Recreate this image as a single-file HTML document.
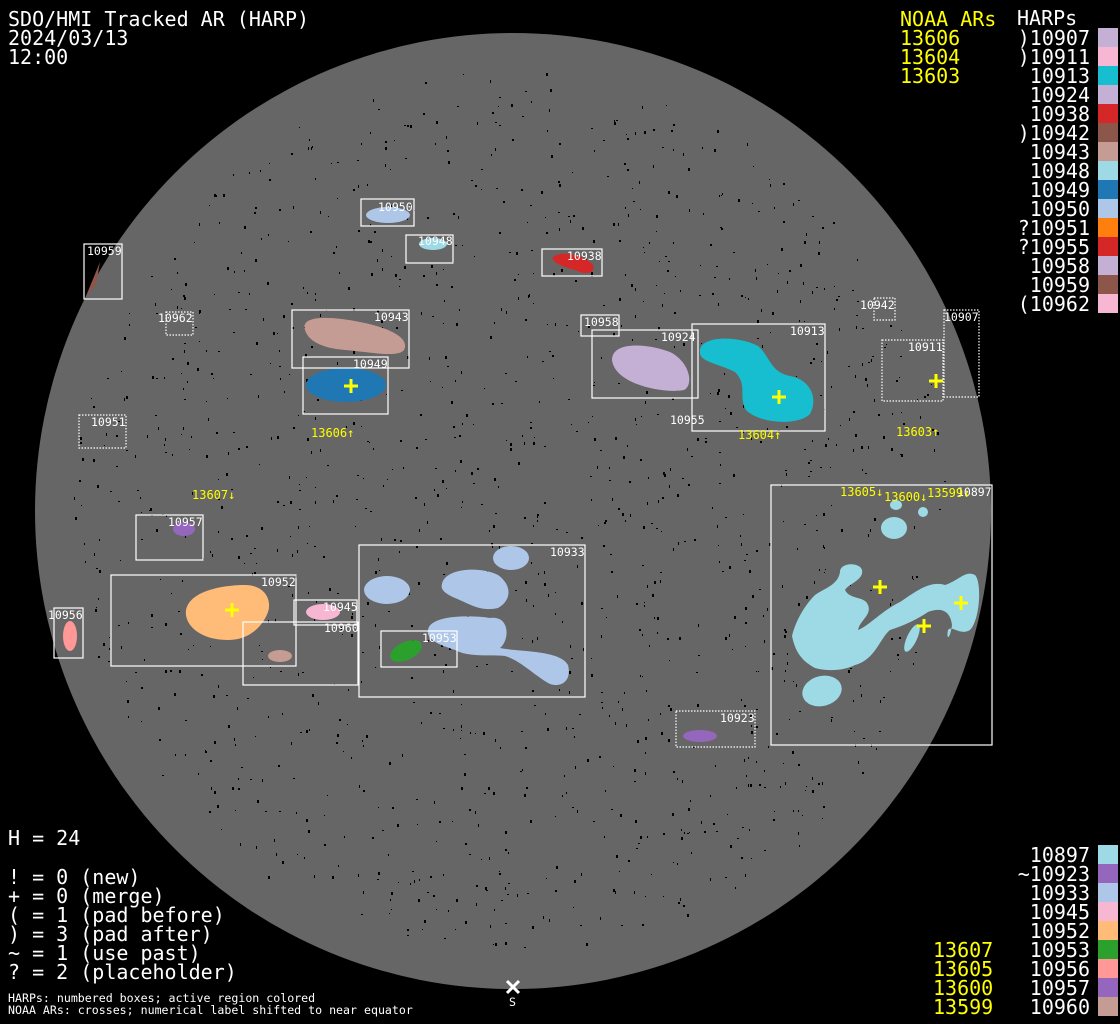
<!DOCTYPE html>
<html><head><meta charset="utf-8"><style>
html,body{margin:0;padding:0;background:#000;width:1120px;height:1024px;overflow:hidden}
svg{display:block}
.t{font-family:"DejaVu Sans Mono","Liberation Mono",monospace;font-size:20px;fill:#fff}
.y{fill:#ffff00}
.b{font-family:"DejaVu Sans Mono","Liberation Mono",monospace;font-size:11.5px;fill:#fff}
.by{font-family:"DejaVu Sans Mono","Liberation Mono",monospace;font-size:12px;fill:#ffff00}
.s{font-family:"DejaVu Sans Mono","Liberation Mono",monospace;font-size:11.6px;fill:#fff}
.r{fill:none;stroke:#fff;stroke-width:1.2}
.d{fill:none;stroke:#fff;stroke-width:1.2;stroke-dasharray:1.5 1.5}
.x{stroke:#ffff00;stroke-width:3;fill:none}
</style></head><body>
<svg width="1120" height="1024" viewBox="0 0 1120 1024" xmlns="http://www.w3.org/2000/svg">
<rect width="1120" height="1024" fill="#000"/>
<circle cx="513" cy="511" r="478" fill="#666"/>
<g id="sp" fill="#000"></g>

<ellipse cx="388" cy="215" rx="22" ry="8" fill="#aec7e8"/>
<ellipse cx="433" cy="244" rx="14" ry="6" fill="#9edae5"/>
<path d="M552,258 C560,250 580,254 590,262 C598,268 592,276 580,272 C570,268 556,266 552,258Z" fill="#d62728"/>
<path d="M86,296 L100,262 L96,285Z" fill="#8c564b"/>
<path d="M305,330 C300,315 330,316 360,322 C390,328 410,338 404,350 C398,358 370,352 345,350 C320,348 308,340 305,330Z" fill="#c49c94"/>
<ellipse cx="346" cy="385" rx="40" ry="17" fill="#1f77b4"/>
<path d="M612,360 C612,340 650,344 670,352 C690,362 694,385 684,390 C665,394 615,385 612,360Z" fill="#c5b0d5"/>
<path d="M700,350 C702,335 740,336 758,346 C770,356 770,372 790,376 C812,380 818,400 810,414 C798,426 760,424 746,410 C738,396 748,385 735,372 C715,362 698,362 700,350Z" fill="#17becf"/>
<ellipse cx="184" cy="529" rx="11" ry="7" fill="#9467bd"/>
<path d="M186,610 C190,590 225,585 245,585 C265,585 272,600 268,612 C262,628 248,640 228,640 C200,640 184,625 186,610Z" fill="#ffbb78"/>
<ellipse cx="323" cy="612" rx="17" ry="8" fill="#f7b6d2"/>
<ellipse cx="280" cy="656" rx="12" ry="6" fill="#c49c94"/>
<ellipse cx="70" cy="636" rx="7" ry="15" fill="#ff9896"/>
<ellipse cx="406" cy="651" rx="17" ry="9" fill="#2ca02c" transform="rotate(-25 406 651)"/>
<g fill="#aec7e8">
<ellipse cx="511" cy="558" rx="18" ry="12"/>
<ellipse cx="387" cy="590" rx="23" ry="14"/>
<path d="M442,584 C445,568 480,566 498,575 C512,585 512,600 498,608 C480,612 470,604 455,598 C446,594 440,590 442,584Z"/>
<path d="M428,630 C430,615 470,615 490,618 C510,615 510,640 500,648 C520,652 560,650 568,665 C572,680 562,688 550,684 C535,676 520,660 505,656 C490,654 470,658 455,650 C440,645 426,640 428,630Z"/>
</g>
<g fill="#9edae5">
<ellipse cx="896" cy="505" rx="6" ry="5"/>
<ellipse cx="923" cy="512" rx="5" ry="5"/>
<ellipse cx="894" cy="528" rx="13" ry="11"/>
<ellipse cx="822" cy="691" rx="20" ry="15" transform="rotate(-15 822 691)"/>
<path d="M840,572 C840,562 860,562 862,570 C864,580 848,584 845,590 C850,600 865,596 868,605 C872,615 860,620 858,630 C870,625 880,612 900,602 C915,592 930,580 945,585 C960,580 965,570 975,575 C982,582 980,620 970,630 C960,636 952,625 948,630 C946,640 950,640 952,625 C950,608 938,608 928,612 C916,620 905,625 890,630 C880,638 875,660 855,665 C845,670 830,672 815,668 C800,660 795,650 792,636 C796,620 805,605 815,595 C825,588 838,585 840,572Z"/>
<ellipse cx="912" cy="638" rx="5" ry="15" transform="rotate(25 912 638)"/>
</g>
<ellipse cx="700" cy="736" rx="17" ry="6" fill="#9467bd"/>

<rect class="r" x="361" y="199" width="53" height="27"/><text class="b" x="378" y="211">10950</text>
<rect class="r" x="406" y="235" width="47" height="28"/><text class="b" x="418" y="245">10948</text>
<rect class="r" x="542" y="249" width="60" height="27"/><text class="b" x="567" y="260">10938</text>
<rect class="r" x="84" y="244" width="38" height="55"/><text class="b" x="87" y="255">10959</text>
<rect class="d" x="166" y="312" width="27" height="23"/><text class="b" x="158" y="322">10962</text>
<rect class="r" x="292" y="310" width="117" height="58"/><text class="b" x="374" y="321">10943</text>
<rect class="r" x="303" y="357" width="85" height="57"/><text class="b" x="353" y="368">10949</text>
<rect class="d" x="79" y="415" width="47" height="33"/><text class="b" x="91" y="426">10951</text>
<rect class="r" x="581" y="315" width="38" height="21"/><text class="b" x="584" y="326">10958</text>
<rect class="r" x="592" y="330" width="106" height="68"/><text class="b" x="661" y="341">10924</text>
<rect class="r" x="692" y="324" width="133" height="107"/><text class="b" x="790" y="335">10913</text>
<text class="b" x="670" y="424">10955</text>
<rect class="d" x="874" y="298" width="21" height="22"/><text class="b" x="860" y="309">10942</text>
<rect class="d" x="882" y="340" width="61" height="61"/><text class="b" x="908" y="351">10911</text>
<rect class="d" x="944" y="310" width="35" height="87"/><text class="b" x="944" y="321">10907</text>
<rect class="r" x="136" y="515" width="67" height="45"/><text class="b" x="168" y="526">10957</text>
<rect class="r" x="111" y="575" width="185" height="91"/><text class="b" x="261" y="586">10952</text>
<rect class="r" x="294" y="600" width="63" height="25"/><text class="b" x="323" y="611">10945</text>
<rect class="r" x="243" y="622" width="115" height="63"/><text class="b" x="324" y="632">10960</text>
<rect class="r" x="54" y="608" width="29" height="50"/><text class="b" x="48" y="619">10956</text>
<rect class="r" x="359" y="545" width="226" height="152"/><text class="b" x="550" y="556">10933</text>
<rect class="r" x="381" y="631" width="76" height="36"/><text class="b" x="422" y="642">10953</text>
<rect class="r" x="771" y="485" width="221" height="260"/><text class="b" x="957" y="496">10897</text>
<rect class="d" x="676" y="711" width="79" height="36"/><text class="b" x="720" y="722">10923</text>

<text class="by" x="311" y="437">13606↑</text>
<text class="by" x="738" y="439">13604↑</text>
<text class="by" x="896" y="436">13603↑</text>
<text class="by" x="192" y="499">13607↓</text>
<text class="by" x="840" y="496">13605↓</text>
<text class="by" x="884" y="501">13600↓</text>
<text class="by" x="927" y="497">13599↓</text>
<g class="x">
<path d="M344,386h14M351,379v14"/>
<path d="M772,397h14M779,390v14"/>
<path d="M929,381h14M936,374v14"/>
<path d="M873,587h14M880,580v14"/>
<path d="M954,603h14M961,596v14"/>
<path d="M917,626h14M924,619v14"/>
<path d="M225,610h14M232,603v14"/>
</g>
<path d="M507,981l12,12M519,981l-12,12" stroke="#fff" stroke-width="3"/>
<text class="s" x="509" y="1006">S</text>

<text class="t" x="8" y="26">SDO/HMI Tracked AR (HARP)</text>
<text class="t" x="8" y="45">2024/03/13</text>
<text class="t" x="8" y="64">12:00</text>
<text class="t y" x="900" y="26">NOAA ARs</text>
<text class="t y" x="900" y="45">13606</text>
<text class="t y" x="900" y="64">13604</text>
<text class="t y" x="900" y="83">13603</text>
<text class="t" x="1017" y="25">HARPs</text>
<g class="t" text-anchor="end">
<text x="1090" y="45">)10907</text><text x="1090" y="64">)10911</text><text x="1090" y="83">10913</text>
<text x="1090" y="102">10924</text><text x="1090" y="121">10938</text><text x="1090" y="140">)10942</text>
<text x="1090" y="159">10943</text><text x="1090" y="178">10948</text><text x="1090" y="197">10949</text>
<text x="1090" y="216">10950</text><text x="1090" y="235">?10951</text><text x="1090" y="254">?10955</text>
<text x="1090" y="273">10958</text><text x="1090" y="292">10959</text><text x="1090" y="311">(10962</text>
</g>
<g>
<rect x="1098" y="28" width="20" height="19" fill="#c5b0d5"/>
<rect x="1098" y="47" width="20" height="19" fill="#f7b6d2"/>
<rect x="1098" y="66" width="20" height="19" fill="#17becf"/>
<rect x="1098" y="85" width="20" height="19" fill="#c5b0d5"/>
<rect x="1098" y="104" width="20" height="19" fill="#d62728"/>
<rect x="1098" y="123" width="20" height="19" fill="#8c564b"/>
<rect x="1098" y="142" width="20" height="19" fill="#c49c94"/>
<rect x="1098" y="161" width="20" height="19" fill="#9edae5"/>
<rect x="1098" y="180" width="20" height="19" fill="#1f77b4"/>
<rect x="1098" y="199" width="20" height="19" fill="#aec7e8"/>
<rect x="1098" y="218" width="20" height="19" fill="#ff7f0e"/>
<rect x="1098" y="237" width="20" height="19" fill="#d62728"/>
<rect x="1098" y="256" width="20" height="19" fill="#c5b0d5"/>
<rect x="1098" y="275" width="20" height="19" fill="#8c564b"/>
<rect x="1098" y="294" width="20" height="19" fill="#f7b6d2"/>
</g>
<g class="t" text-anchor="end">
<text x="1090" y="862">10897</text><text x="1090" y="881">~10923</text><text x="1090" y="900">10933</text>
<text x="1090" y="919">10945</text><text x="1090" y="938">10952</text><text x="1090" y="957">10953</text>
<text x="1090" y="976">10956</text><text x="1090" y="995">10957</text><text x="1090" y="1014">10960</text>
</g>
<g class="t y">
<text x="933" y="957">13607</text><text x="933" y="976">13605</text><text x="933" y="995">13600</text><text x="933" y="1014">13599</text>
</g>
<g>
<rect x="1098" y="845" width="20" height="19" fill="#9edae5"/>
<rect x="1098" y="864" width="20" height="19" fill="#9467bd"/>
<rect x="1098" y="883" width="20" height="19" fill="#aec7e8"/>
<rect x="1098" y="902" width="20" height="19" fill="#f7b6d2"/>
<rect x="1098" y="921" width="20" height="19" fill="#ffbb78"/>
<rect x="1098" y="940" width="20" height="19" fill="#2ca02c"/>
<rect x="1098" y="959" width="20" height="19" fill="#ff9896"/>
<rect x="1098" y="978" width="20" height="19" fill="#9467bd"/>
<rect x="1098" y="997" width="20" height="19" fill="#c49c94"/>
</g>
<g class="t">
<text x="8" y="845">H = 24</text>
<text x="8" y="884">! = 0 (new)</text>
<text x="8" y="903">+ = 0 (merge)</text>
<text x="8" y="922">( = 1 (pad before)</text>
<text x="8" y="941">) = 3 (pad after)</text>
<text x="8" y="960">~ = 1 (use past)</text>
<text x="8" y="979">? = 2 (placeholder)</text>
</g>
<text class="s" x="8" y="1002">HARPs: numbered boxes; active region colored</text>
<text class="s" x="8" y="1014">NOAA ARs: crosses; numerical label shifted to near equator</text>
</svg>
<script>
(function(){var g=document.getElementById('sp'),s=12345,h='';function r(){s=(s*1103515245+12345)%2147483648;return s/2147483648;}
for(var i=0;i<1400;i++){var a=r()*6.283,d=Math.sqrt(r())*440,x=513+d*Math.cos(a),y=511+d*Math.sin(a);h+='<rect x="'+x.toFixed(0)+'" y="'+y.toFixed(0)+'" width="'+(1+Math.floor(r()*2))+'" height="'+(1+Math.floor(r()*3))+'"/>';}
g.innerHTML=h;})();
</script>
</body></html>
